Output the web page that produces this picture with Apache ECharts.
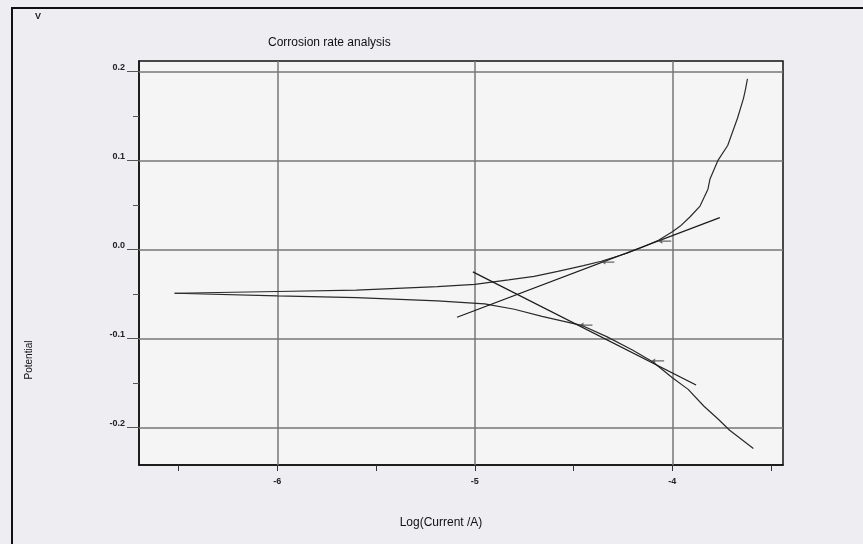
<!DOCTYPE html>
<html>
<head>
<meta charset="utf-8">
<script src="https://cdn.jsdelivr.net/npm/echarts@6/dist/echarts.min.js"></script>
<style>
html,body{margin:0;padding:0;background:#ededf2;}
#chart{width:863px;height:544px;}
</style>
</head>
<body>
<div id="chart"></div>
<script>
// ---- data ----
const xTickLabels = [-6, -5, -4];
const xMinorTicks = [-6.5, -6, -5.5, -5, -4.5, -4, -3.5];
const yTickLabels = [-0.2, -0.1, 0, 0.1, 0.2];
const yMinorTicks = [-0.15, -0.05, 0.05, 0.15];

const anodicCurve = [
  [-6.52,-0.049],[-6.0,-0.047],[-5.6,-0.0455],[-5.19,-0.0415],[-5.0,-0.039],
  [-4.83,-0.034],[-4.7,-0.03],[-4.58,-0.0245],[-4.45,-0.018],[-4.36,-0.013],
  [-4.23,-0.004],[-4.15,0.003],[-4.07,0.0105],[-4.0,0.02],[-3.96,0.0265],
  [-3.91,0.037],[-3.86,0.049],[-3.82,0.068],[-3.81,0.079],[-3.77,0.10],
  [-3.72,0.117],[-3.67,0.148],[-3.64,0.17],[-3.63,0.18],[-3.62,0.192]
];
const cathodicCurve = [
  [-6.52,-0.049],[-6.0,-0.052],[-5.6,-0.054],[-5.19,-0.0575],[-4.95,-0.061],
  [-4.8,-0.067],[-4.66,-0.075],[-4.46,-0.085],[-4.33,-0.098],[-4.2,-0.113],
  [-4.1,-0.126],[-4.0,-0.144],[-3.92,-0.157],[-3.84,-0.176],[-3.77,-0.19],
  [-3.71,-0.203],[-3.59,-0.2235]
];
const anodicTafel = [[-5.09,-0.076],[-3.76,0.036]];
const cathodicTafel = [[-5.01,-0.025],[-3.88,-0.152]];
const arrowMarks = [[-4.362,-0.014],[-4.074,0.0095],[-4.473,-0.0847],[-4.11,-0.125]];

const xRange = [-6.7, -3.44];
const yRange = [-0.242, 0.212];

// ---- chart ----
const chart = echarts.init(document.getElementById('chart'), null, {renderer:'canvas'});
const font = 'Liberation Sans, Arial, sans-serif';
const gridColor = '#767676';

const option = {
  backgroundColor: '#ededf2',
  animation: false,
  graphic: [
    {type:'rect', shape:{x:12,y:7,width:851,height:2}, style:{fill:'#111'}, z:100},
    {type:'rect', shape:{x:11,y:7,width:2,height:537}, style:{fill:'#111'}, z:100},
    {type:'text', left:35, top:12, style:{text:'V', font:'bold 9px '+font, fill:'#222'}},
    {type:'text', left:268, top:37, style:{text:'Corrosion rate analysis', font:'12px '+font, fill:'#111'}},
    {type:'text', x:29, y:360, rotation:Math.PI/2, style:{text:'Potential', font:'10px '+font, fill:'#111', align:'center', verticalAlign:'middle'}},
    {type:'text', x:441, y:523, style:{text:'Log(Current /A)', font:'12px '+font, fill:'#111', align:'center', verticalAlign:'middle'}}
  ],
  grid: {left:139, top:61, right:80, bottom:79, show:true, backgroundColor:'#f5f5f5', borderColor:'#111', borderWidth:1.5},
  xAxis: [{
    type:'value', min:xRange[0], max:xRange[1],
    axisLine:{show:true, onZero:false, lineStyle:{color:'#111', width:1.5}},
    axisTick:{show:true, customValues:xMinorTicks, length:6, lineStyle:{color:'#333'}},
    axisLabel:{customValues:xTickLabels, margin:12, fontSize:9, fontWeight:'bold', color:'#222', fontFamily:font},
    splitLine:{show:false}
  }],
  yAxis: [{
    type:'value', min:yRange[0], max:yRange[1],
    axisLine:{show:true, onZero:false, lineStyle:{color:'#111', width:1.5}},
    axisTick:{show:true, customValues:yMinorTicks, length:6, lineStyle:{color:'#555'}},
    axisLabel:{show:false},
    splitLine:{show:false}
  },{
    type:'value', min:yRange[0], max:yRange[1], position:'left',
    axisLine:{show:false},
    axisTick:{show:true, customValues:yTickLabels, length:12, lineStyle:{color:'#555'}},
    axisLabel:{customValues:yTickLabels, margin:14, fontSize:9, fontWeight:'bold', color:'#222', fontFamily:font,
      verticalAlign:'bottom', formatter:(v)=>v.toFixed(1)},
    splitLine:{show:false}
  }],
  series: [
    {
      type:'line', name:'grid', data:[], silent:true,
      markLine:{
        silent:true, symbol:['none','none'], label:{show:false},
        lineStyle:{color:gridColor, width:1.5, type:'solid'},
        data: xTickLabels.map(v=>({xAxis:v})).concat(yTickLabels.map(v=>({yAxis:v})))
      }
    },
    {type:'line', name:'anodic', data:anodicCurve, showSymbol:false, lineStyle:{color:'#2a2a2a', width:1.2}, z:5},
    {type:'line', name:'cathodic', data:cathodicCurve, showSymbol:false, lineStyle:{color:'#2a2a2a', width:1.2}, z:5},
    {type:'line', name:'anodicTafel', data:anodicTafel, showSymbol:false, lineStyle:{color:'#1a1a1a', width:1.2}, z:6},
    {type:'line', name:'cathodicTafel', data:cathodicTafel, showSymbol:false, lineStyle:{color:'#1a1a1a', width:1.2}, z:6},
    {type:'scatter', name:'arrows', data:arrowMarks, symbol:'path://M0,5 L5,1 L5,4 L16,4 L16,6 L5,6 L5,9 Z',
      symbolSize:[13,5], symbolOffset:[7,0], itemStyle:{color:'#444'}, z:7, silent:true}
  ]
};
chart.setOption(option);
</script>
</body>
</html>
